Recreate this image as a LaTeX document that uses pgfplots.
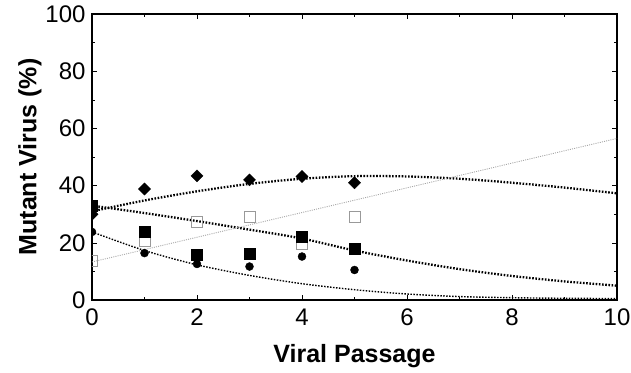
\documentclass[border=0pt]{standalone}
\usepackage{fontspec}
\setmainfont{Liberation Sans}
\usepackage{pgfplots}
\pgfplotsset{compat=1.18}
\begin{document}
\begin{tikzpicture}
\begin{axis}[
  name=ax,
  scale only axis,
  width=525bp, height=286bp,
  xmin=0, xmax=10, ymin=0, ymax=100,
  xtick={0,2,...,10}, ytick={0,20,...,100},
  minor xtick={1,3,5,7,9}, minor ytick={10,30,50,70,90},
  tick align=inside,
  major tick length=5bp, minor tick length=3bp,
  tick style={black, line width=0.6pt},
  axis line style={black, line width=1.1pt},
  /pgf/number format/assume math mode=true,
  ticklabel style={font=\fontsize{24bp}{28bp}\selectfont},
  xticklabel style={yshift=-5bp},
  yticklabel style={xshift=-3bp},
  label style={font=\fontsize{25bp}{30bp}\selectfont\bfseries},
  xlabel style={yshift=-12bp},
  ylabel style={yshift=-3bp},
  xlabel={Viral Passage},
  ylabel={Mutant Virus (\%)},
  clip marker paths=true,
]
% trend lines
\addplot[black, line width=2.3pt, dash pattern=on 1.6pt off 1.6pt, smooth] coordinates {
 (0,31) (1,34.8) (2,38) (3,40.6) (4,42.4) (5,43.3) (6,43.2) (7,42.4) (8,41) (9,39.3) (10,37.3)};
\addplot[black, line width=2.3pt, dash pattern=on 1.6pt off 1.6pt, smooth] coordinates {
 (0,33) (1,30.4) (2,27.6) (3,24.6) (4,21.5) (5,17.3) (6,13.8) (7,10.8) (8,8.4) (9,6.5) (10,5.0)};
\addplot[black, line width=1.4pt, dash pattern=on 1.5pt off 1.5pt, smooth] coordinates {
 (0,23.8) (1,17.3) (2,12.3) (3,8.6) (4,5.7) (5,3.6) (6,2.1) (7,1.2) (8,0.8) (9,0.6) (10,0.5)};
\addplot[gray!70, line width=0.9pt, dash pattern=on 1pt off 1.2pt] coordinates {(0,13.3) (10,56.5)};
% data markers
\addplot[only marks, mark=square, mark size=5.5bp, mark options={draw=gray!80, line width=0.9pt}] coordinates {
 (0,13.5) (1,20.5) (2,27.3) (3,29.2) (4,19.5) (5,29)};
\addplot[only marks, mark=square*, mark size=4.3bp, mark options={fill=black, draw=black, rotate=45}] coordinates {
 (0,30) (1,38.8) (2,43.4) (3,42) (4,43.2) (5,41)};
\addplot[only marks, mark=square*, mark size=5.5bp, mark options={fill=black, draw=black}] coordinates {
 (0,33) (1,24) (2,15.8) (3,16.3) (4,22) (5,17.8)};
\addplot[only marks, mark=*, mark size=4bp, mark options={fill=black, draw=black}] coordinates {
 (0,23.8) (1,16.4) (2,12.6) (3,11.7) (4,15.2) (5,10.5)};
\end{axis}
\pgfresetboundingbox
\useasboundingbox ([xshift=-92bp,yshift=-73bp]ax.south west) rectangle ([xshift=14bp,yshift=14bp]ax.north east);
\end{tikzpicture}
\end{document}
